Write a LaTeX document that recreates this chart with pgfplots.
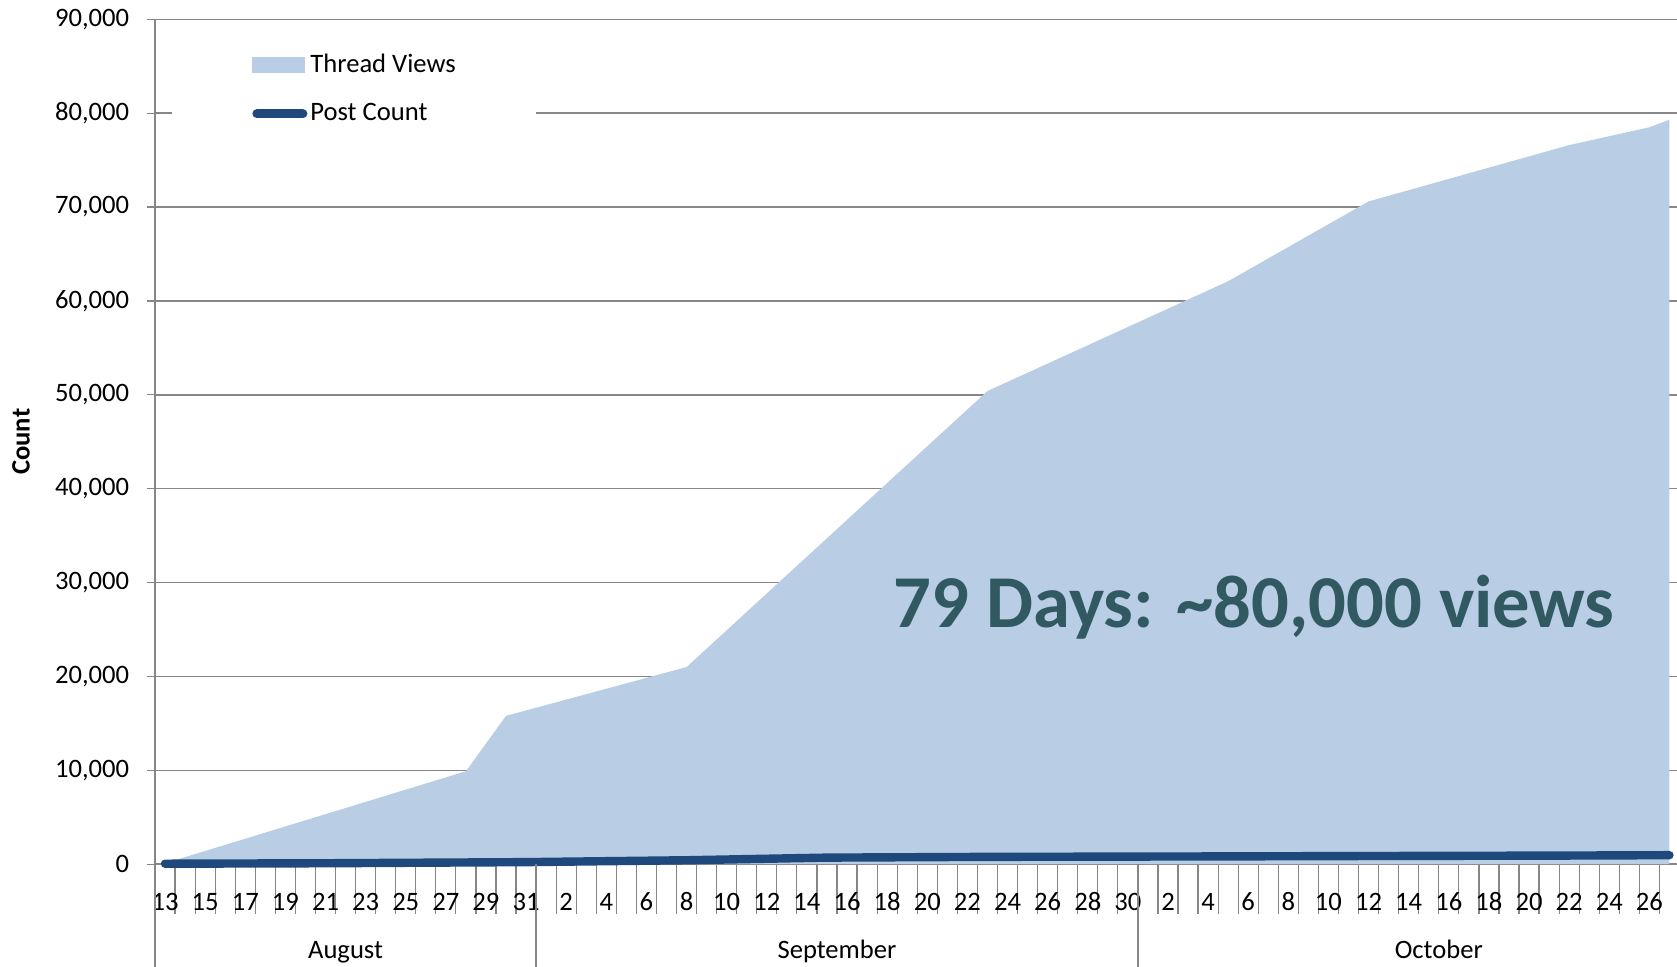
\documentclass[border=0pt]{standalone}
\usepackage{fontspec}
\setmainfont{Carlito}
\usepackage{pgfplots}
\pgfplotsset{compat=1.18}
\definecolor{areablue}{HTML}{B9CDE5}
\definecolor{postblue}{HTML}{1F497D}
\definecolor{gridgray}{HTML}{868686}
\definecolor{annot}{RGB}{49,89,97}
\begin{document}
\fontsize{13.3}{16}\selectfont
\begin{tikzpicture}
\useasboundingbox (0,0) rectangle (838.5pt,483.5pt);
\clip (0,0) rectangle (838.5pt,483.5pt);
\begin{axis}[
  at={(77.5pt,51.4pt)}, anchor=south west,
  scale only axis, width=792.35pt, height=422.45pt,
  xmin=-0.5, xmax=78.5, ymin=0, ymax=90000,
  clip=false,
  axis x line=bottom, axis y line=left,
  axis line style={-, draw=gridgray, line width=0.75pt},
  ytick={0,10000,...,90000},
  ymajorgrids, grid style={draw=gridgray, line width=0.75pt},
  scaled y ticks=false,
  /pgf/number format/1000 sep={,},
  /pgf/number format/assume math mode=true,
  tick align=outside,
  major tick length=4pt,
  minor tick length=25pt,
  tick style={draw=gridgray, line width=0.6pt},
  major x tick style={draw=none},
  xtick={0,2,...,74},
  xticklabels={13,15,17,19,21,23,25,27,29,31,2,4,6,8,10,12,14,16,18,20,22,24,26,28,30,2,4,6,8,10,12,14,16,18,20,22,24,26},
  minor xtick={-0.5,0.5,...,78.5},
  xticklabel style={anchor=base, yshift=-19pt},
  yticklabel style={xshift=-4.3pt},
  ylabel={\bfseries Count},
  ylabel style={at={(rel axis cs:-0.08454,0.5)}, anchor=center},
  legend cell align=left,
  legend style={at={(rel axis cs:0.01073,0.9735)}, anchor=north west,
    draw=none, fill=white, inner xsep=40pt, inner ysep=6pt,
    row sep=13.4pt, column sep=1.5pt, nodes={inner sep=0pt}},
]
\addplot[fill=areablue, draw=none,
  legend image code/.code={\fill[areablue] (0pt,-4pt) rectangle (26.5pt,4pt);}]
  coordinates {(0,100) (15,9900) (17,15800) (26,21000) (41,50400) (53,62100)
    (60,70600) (70,76600) (74,78500) (75,79300)} \closedcycle;
\addlegendentry{Thread Views}
\addplot[postblue, line width=4.2pt, line cap=round, line join=round, mark=none,
  legend image code/.code={\draw[postblue, line width=4.5pt, line cap=round] (2.25pt,0pt) -- (25.25pt,0pt);}]
  coordinates {(0,50) (8,100) (18,220) (26,420) (33,700) (41,780) (53,830)
    (60,870) (70,920) (75,960)};
\addlegendentry{Post Count}
\draw[gridgray, line width=0.75pt] (axis cs:-0.5,0) -- ++(0pt,-52pt);
\draw[gridgray, line width=0.75pt] (axis cs:18.5,0) -- ++(0pt,-52pt);
\draw[gridgray, line width=0.75pt] (axis cs:48.5,0) -- ++(0pt,-52pt);
\node[anchor=base, yshift=-47pt] at (axis cs:9,0) {August};
\node[anchor=base, yshift=-47pt] at (axis cs:33.5,0) {September};
\node[anchor=base, yshift=-47pt] at (axis cs:63.5,0) {October};
\node[anchor=base, text=annot, font=\fontsize{37.3}{45}\selectfont\bfseries]
  at (axis cs:54.3,25260) {79 Days: \textasciitilde 80,000 views};
\end{axis}
\end{tikzpicture}
\end{document}
